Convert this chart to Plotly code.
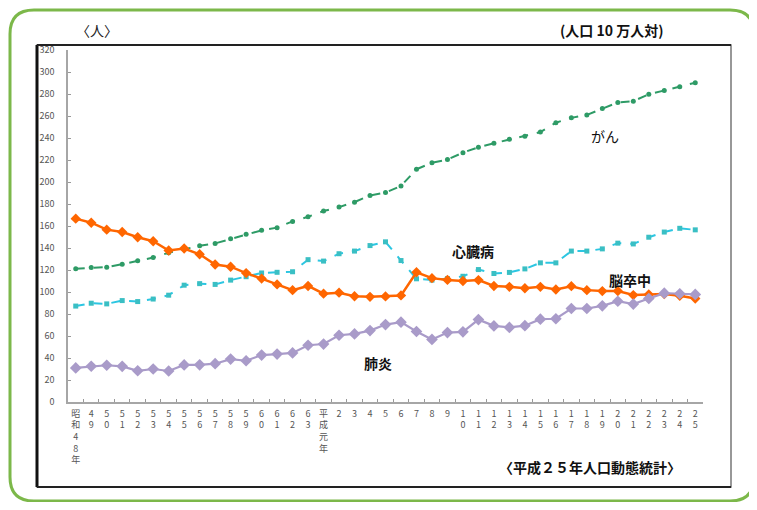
import plotly.graph_objects as go

# ---- data ----
years = ["昭<br>和<br>4<br>8<br>年", "4<br>9", "5<br>0", "5<br>1", "5<br>2", "5<br>3", "5<br>4",
         "5<br>5", "5<br>6", "5<br>7", "5<br>8", "5<br>9", "6<br>0", "6<br>1", "6<br>2", "6<br>3",
         "平<br>成<br>元<br>年", "2", "3", "4", "5", "6", "7", "8", "9",
         "1<br>0", "1<br>1", "1<br>2", "1<br>3", "1<br>4", "1<br>5", "1<br>6", "1<br>7", "1<br>8", "1<br>9",
         "2<br>0", "2<br>1", "2<br>2", "2<br>3", "2<br>4", "2<br>5"]

cancer = [121.2, 122.2, 122.6, 125.3, 128.4, 131.3, 135.7, 139.1, 142.0, 144.2, 148.3, 152.5, 156.1,
          158.5, 164.2, 168.4, 173.6, 177.2, 181.7, 187.8, 190.4, 196.4, 211.6, 217.5, 220.4, 226.7,
          231.6, 235.2, 238.8, 241.7, 245.4, 253.9, 258.3, 261.0, 266.9, 272.3, 273.5, 279.7, 283.2,
          286.6, 290.3]
heart = [87.2, 89.8, 89.2, 92.2, 91.3, 93.6, 97.1, 106.2, 107.6, 106.9, 110.8, 113.9, 117.3, 117.9,
         118.4, 129.4, 128.1, 134.8, 137.2, 142.2, 145.6, 128.6, 112.0, 110.8, 112.2, 114.3, 120.4,
         116.8, 117.8, 121.0, 126.5, 126.5, 137.2, 137.2, 139.2, 144.4, 143.7, 149.8, 154.5, 157.9, 156.5]
stroke = [166.7, 163.0, 156.7, 154.5, 149.8, 146.2, 137.7, 139.5, 134.3, 125.0, 123.0, 117.2, 112.2,
          106.9, 101.7, 105.5, 98.5, 99.4, 96.2, 95.6, 96.0, 96.9, 117.9, 112.6, 111.0, 110.0, 110.8,
          105.5, 104.7, 103.4, 104.7, 102.3, 105.3, 101.7, 100.8, 100.9, 97.2, 97.7, 98.2, 96.5, 94.1]
pneumonia = [31.0, 32.5, 33.4, 32.4, 28.4, 30.0, 28.2, 33.7, 33.8, 34.8, 39.0, 37.5, 42.7, 43.6, 44.6,
             51.6, 52.7, 60.7, 61.9, 64.9, 70.4, 72.6, 64.1, 56.9, 63.1, 63.8, 74.9, 69.2, 67.8, 69.4,
             75.3, 75.7, 85.0, 85.0, 87.4, 91.6, 89.0, 94.1, 98.9, 98.4, 97.8]

y_ticks = list(range(0, 321, 20))

# ---- geometry (page has an 8px body margin) ----
OFF = 8
W, H = 749, 494
L, R, T, B = 60, 54, 42, 100
PW, PH = W - L - R, H - T - B


def px(x):  # screen pixel -> paper
    return (x - OFF - L) / PW


def py(y):
    return (H - B - (y - OFF)) / PH


FONT = "Noto Sans CJK JP"

fig = go.Figure()

fig.add_trace(go.Scatter(x=years, y=cancer, mode="lines+markers", name="がん",
                         line=dict(color="#2e9b66", width=2, dash="dash"),
                         marker=dict(symbol="circle", size=5, color="#2e9b66")))
fig.add_trace(go.Scatter(x=years, y=heart, mode="lines+markers", name="心臓病",
                         line=dict(color="#2cc6e2", width=2, dash="dash"),
                         marker=dict(symbol="square", size=5, color="#3abfc4")))
fig.add_trace(go.Scatter(x=years, y=stroke, mode="lines+markers", name="脳卒中",
                         line=dict(color="#ff6600", width=2.5),
                         marker=dict(symbol="diamond", size=8, color="#ff6600")))
fig.add_trace(go.Scatter(x=years, y=pneumonia, mode="lines+markers", name="肺炎",
                         line=dict(color="#a99bc9", width=2.2),
                         marker=dict(symbol="diamond", size=9, color="#a99bc9")))

# border shapes
x0, y0, x1, y1, r = 10, 10, 754, 501, 24
path = (f"M {px(x0 + r)},{py(y0)} L {px(x1 - r)},{py(y0)} Q {px(x1)},{py(y0)} {px(x1)},{py(y0 + r)} "
        f"L {px(x1)},{py(y1 - r)} Q {px(x1)},{py(y1)} {px(x1 - r)},{py(y1)} "
        f"L {px(x0 + r)},{py(y1)} Q {px(x0)},{py(y1)} {px(x0)},{py(y1 - r)} "
        f"L {px(x0)},{py(y0 + r)} Q {px(x0)},{py(y0)} {px(x0 + r)},{py(y0)} Z")
shapes = [
    dict(type="path", xref="paper", yref="paper", path=path, line=dict(color="#7cb84a", width=3)),
    dict(type="rect", xref="paper", yref="paper", x0=px(37), x1=px(731), y0=py(487), y1=py(45),
         line=dict(color="#777777", width=1.5)),
    dict(type="line", xref="paper", yref="paper", x0=px(37), x1=px(37), y0=py(487), y1=py(45),
         line=dict(color="#111111", width=3)),
    dict(type="line", xref="paper", yref="paper", x0=px(37), x1=px(731), y0=py(45), y1=py(45),
         line=dict(color="#222222", width=2)),
    dict(type="line", xref="paper", yref="paper", x0=px(37), x1=px(731), y0=py(487), y1=py(487),
         line=dict(color="#222222", width=2)),
]

annotations = [
    dict(text="〈人〉", x=px(97), y=py(30), font=dict(size=14, color="#222222")),
    dict(text="<b>(人口 10 万人対)</b>", x=px(611), y=py(30), font=dict(size=14, color="#111111")),
    dict(text="<b>〈平成２５年人口動態統計〉</b>", x=px(590), y=py(467), font=dict(size=14, color="#111111")),
    dict(text="がん", x=px(605), y=py(136), font=dict(size=14, color="#111111")),
    dict(text="<b>心臓病</b>", x=px(473), y=py(251), font=dict(size=14, color="#111111")),
    dict(text="<b>脳卒中</b>", x=px(630), y=py(280), font=dict(size=14, color="#111111")),
    dict(text="<b>肺炎</b>", x=px(378), y=py(363), font=dict(size=14, color="#111111")),
]
for a in annotations:
    a.update(xref="paper", yref="paper", showarrow=False, xanchor="center", yanchor="middle")
    a["font"]["family"] = FONT

fig.update_layout(
    width=W, height=H, autosize=False,
    margin=dict(l=L, r=R, t=T, b=B, pad=0, autoexpand=False),
    paper_bgcolor="white", plot_bgcolor="white",
    showlegend=False,
    shapes=shapes, annotations=annotations,
    font=dict(family=FONT),
)
fig.update_xaxes(type="category", range=[-0.5, len(years) - 0.5], tickson="boundaries",
                 ticks="inside", ticklen=3, automargin=False,
                 tickcolor="#999999", showline=True, linecolor="#a6a6a6", linewidth=1.5,
                 showgrid=False, zeroline=False, tickangle=0,
                 tickfont=dict(size=9, color="#555555", family=FONT), ticklabelstandoff=2)
fig.update_yaxes(range=[0, 320], tickvals=y_ticks, ticks="inside", ticklen=3, tickcolor="#999999",
                 automargin=False,
                 showline=True, linecolor="#a6a6a6", linewidth=1.5, showgrid=False, zeroline=False,
                 tickfont=dict(size=9, color="#555555", family=FONT), ticklabelstandoff=10)

fig.write_html("out.html")
